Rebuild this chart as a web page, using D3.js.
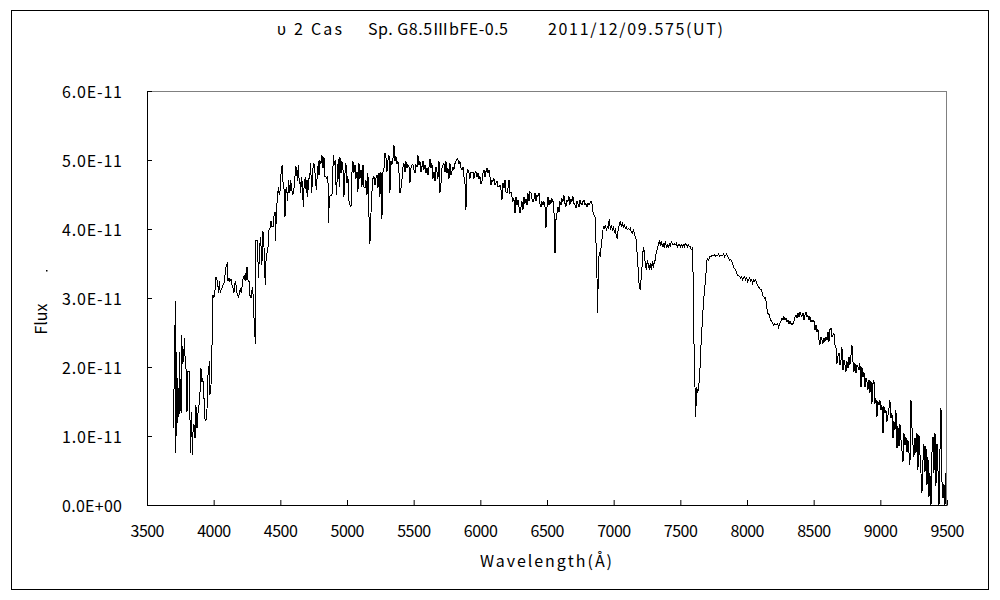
<!DOCTYPE html>
<html>
<head>
<meta charset="utf-8">
<script src="https://cdn.jsdelivr.net/npm/d3@7"></script>
<style>
  body { margin: 0; background: #fff; }
  text { font-family: 'Noto Sans CJK JP', 'Noto Sans', sans-serif; }
</style>
</head>
<body>
<svg width="1000" height="600"></svg>
<script>
// Title pieces
var titleParts = ["υ 2 Cas", "Sp. G8.5ⅢbFE-0.5", "2011/12/09.575(UT)"];

// Tick values (flux in units of 1e-11)
var xTicks = [3500, 4000, 4500, 5000, 5500, 6000, 6500, 7000, 7500, 8000, 8500, 9000, 9500];
var yTicks = [0, 1, 2, 3, 4, 5, 6];

// Spectrum, [wavelength (A), flux (x1e-11)]
var specBlue = [[3698,1.12],[3713,2.96],[3717,0.76],[3721,2.22],[3724,1.04],[3730,1.84],[3740,1.28],[3745,2.22],[3750,1.47],[3757,1.33],[3760,2.46],[3767,2.05],[3775,2.10],[3780,2.42],[3787,2.05],[3795,1.93],[3800,1.35],[3805,1.93],[3817,1.93],[3822,1.30],[3827,0.75],[3835,1.35],[3840,0.72],[3845,1.06],[3852,1.18],[3860,0.97],[3867,1.45],[3875,1.11],[3882,1.33],[3892,1.47],[3900,1.71],[3905,1.98],[3912,1.79],[3917,1.84],[3925,1.71],[3932,1.26],[3942,1.22],[3950,1.38],[3955,1.86],[3962,1.91],[3967,2.08],[3972,1.59],[3980,1.74],[3985,1.91],[3990,2.68],[3995,3.04],[4002,3.00],[4010,3.12],[4017,3.31],[4025,3.26],[4030,3.21],[4037,3.07],[4042,3.24],[4050,3.07],[4055,3.12],[4062,3.14],[4070,3.19],[4077,3.21],[4087,3.36],[4095,3.48],[4102,3.50],[4107,3.24],[4115,3.29],[4122,3.24],[4130,3.27],[4137,3.19],[4145,3.14],[4152,3.07],[4157,3.19],[4165,3.24],[4172,3.09],[4180,3.04],[4187,3.00],[4192,3.07],[4200,3.14],[4207,3.07],[4215,3.19],[4222,3.31],[4230,3.26],[4237,3.36],[4242,3.24],[4250,3.45],[4257,3.26],[4265,3.24],[4272,3.04],[4280,3.00],[4290,3.16],[4297,3.02],[4302,2.73],[4307,2.58],[4312,2.34],[4317,3.84],[4325,3.84],[4330,3.77],[4335,3.29],[4342,3.57],[4350,3.89],[4357,3.70],[4362,3.48],[4367,3.96],[4375,3.94],[4380,3.55],[4387,3.19],[4392,3.53],[4400,3.65],[4407,3.72],[4415,3.99],[4422,4.01],[4430,4.11],[4437,4.03],[4445,4.03],[4452,4.18],[4460,4.25],[4465,3.82],[4470,4.32],[4477,4.40],[4485,4.61],[4492,4.49],[4500,4.57],[4507,4.88],[4515,4.93],[4522,4.59],[4530,4.57],[4535,4.18],[4540,4.57],[4547,4.61],[4555,4.40],[4562,4.71],[4567,4.59],[4572,4.52],[4577,4.71],[4585,4.59],[4592,4.49],[4600,4.54],[4607,4.69],[4615,4.90],[4622,4.88],[4627,4.69],[4635,4.93],[4642,4.66],[4647,4.71],[4652,4.52],[4660,4.76],[4667,4.57],[4672,4.32],[4680,4.71],[4687,4.73],[4695,4.52],[4700,4.71],[4705,4.47],[4712,4.73],[4720,4.73],[4727,4.95],[4735,4.52],[4742,4.78],[4747,4.95],[4755,4.93],[4762,4.76],[4770,4.57],[4777,4.78],[4785,4.98],[4790,4.78],[4797,4.98],[4805,4.95],[4812,5.07],[4820,4.88],[4827,5.05],[4835,4.76],[4842,4.76],[4850,4.73],[4857,4.76],[4862,4.08],[4867,4.44],[4875,4.49],[4882,4.49],[4890,4.52],[4897,5.07],[4905,4.93],[4912,5.00],[4920,4.49],[4927,4.76],[4935,5.02],[4942,4.61]];

var specGreen = [[4947,5.05],[4955,4.81],[4962,4.98],[4970,4.86],[4977,4.47],[4985,4.81],[4992,4.95],[5000,4.66],[5007,4.76],[5015,4.40],[5022,4.35],[5030,4.32],[5037,4.81],[5045,4.98],[5052,4.81],[5060,4.93],[5067,4.73],[5075,4.83],[5082,4.54],[5090,4.95],[5097,4.73],[5105,4.86],[5112,4.61],[5120,4.93],[5127,4.61],[5135,4.59],[5142,4.71],[5150,4.49],[5157,4.81],[5165,4.18],[5172,3.79],[5180,4.23],[5187,4.54],[5195,4.73],[5202,4.76],[5210,4.64],[5217,4.73],[5225,4.78],[5232,4.59],[5240,4.81],[5247,4.47],[5255,4.83],[5262,4.15],[5270,4.83],[5277,4.86],[5285,5.10],[5292,5.05],[5300,4.83],[5307,5.00],[5315,5.07],[5322,4.52],[5330,4.98],[5337,4.93],[5345,5.02],[5352,5.22],[5360,4.98],[5367,5.05],[5375,4.95],[5382,4.98],[5390,4.81],[5397,4.52],[5405,4.59],[5412,4.71],[5420,4.90],[5427,4.95],[5435,4.83],[5442,4.98],[5450,4.88],[5457,4.93],[5465,4.90],[5472,4.66],[5480,4.88],[5487,4.93],[5495,4.93],[5502,4.86],[5510,4.81],[5517,4.93],[5525,4.90],[5532,5.07],[5540,4.93],[5547,4.98],[5555,4.83],[5562,4.90],[5570,4.98],[5577,4.86],[5585,4.93],[5592,4.81],[5600,4.88],[5607,4.78],[5615,4.90],[5622,5.02],[5630,4.88],[5637,4.95],[5645,4.73],[5652,4.83],[5660,4.69],[5667,4.90],[5675,4.83],[5682,4.73],[5690,4.98],[5697,4.52],[5705,4.66],[5712,4.88],[5720,4.93],[5727,4.95],[5735,4.83],[5742,4.98],[5750,4.81],[5757,4.88],[5765,4.73],[5772,4.95],[5780,4.78],[5787,4.83],[5795,4.90],[5802,4.86],[5810,4.95],[5817,4.98],[5825,5.02],[5832,5.00],[5840,4.95],[5847,4.98],[5855,4.88],[5862,4.86],[5870,4.90],[5877,4.76],[5885,4.66],[5892,4.28],[5900,4.81],[5907,4.86],[5915,4.81],[5922,4.73],[5930,4.83],[5937,4.81],[5945,4.83],[5952,4.73],[5960,4.81],[5967,4.83],[5975,4.76],[5982,4.81],[5990,4.73],[5997,4.76],[6005,4.66],[6012,4.69],[6020,4.81],[6027,4.86],[6035,4.76],[6042,4.83],[6050,4.88],[6057,4.81],[6065,4.86],[6072,4.76],[6080,4.64],[6087,4.71],[6095,4.69],[6102,4.73],[6110,4.64],[6117,4.66],[6125,4.69],[6132,4.61],[6140,4.61],[6147,4.64],[6155,4.57],[6162,4.42],[6170,4.66],[6177,4.59],[6185,4.71],[6192,4.54],[6200,4.52],[6207,4.59],[6215,4.71],[6222,4.52],[6230,4.54],[6237,4.47],[6245,4.40],[6252,4.44],[6260,4.23],[6267,4.47],[6275,4.35],[6282,4.42],[6290,4.32]];

var specOrange = [[6297,4.23],[6305,4.32],[6312,4.40],[6320,4.28],[6327,4.47],[6335,4.37],[6342,4.44],[6350,4.35],[6357,4.52],[6365,4.40],[6372,4.54],[6380,4.52],[6387,4.44],[6395,4.40],[6402,4.42],[6410,4.52],[6417,4.40],[6425,4.49],[6432,4.47],[6440,4.52],[6447,4.37],[6455,4.32],[6462,4.40],[6470,4.35],[6477,4.40],[6485,4.32],[6492,4.01],[6500,4.32],[6507,4.47],[6515,4.35],[6522,4.42],[6530,4.37],[6537,4.44],[6545,4.40],[6552,4.28],[6560,3.65],[6567,4.13],[6575,4.23],[6582,4.32],[6590,4.25],[6597,4.40],[6605,4.35],[6612,4.44],[6620,4.40],[6627,4.49],[6635,4.37],[6642,4.32],[6650,4.42],[6657,4.40],[6665,4.47],[6672,4.35],[6680,4.44],[6687,4.40],[6695,4.47],[6702,4.37],[6710,4.35],[6717,4.30],[6725,4.40],[6732,4.37],[6740,4.32],[6747,4.42],[6755,4.37],[6762,4.35],[6770,4.40],[6777,4.42],[6785,4.35],[6792,4.37],[6800,4.32],[6807,4.37],[6815,4.35],[6822,4.37],[6830,4.40],[6837,4.37],[6845,4.25],[6852,4.20],[6860,4.18],[6867,3.84]];

var specRed = [[6875,3.29],[6880,2.78],[6885,3.45],[6892,3.67],[6900,3.60],[6907,3.77],[6915,3.89],[6922,4.03],[6930,4.01],[6937,4.06],[6945,3.99],[6952,4.03],[6960,4.01],[6967,4.15],[6975,3.99],[6982,4.06],[6990,3.99],[6997,4.03],[7005,3.96],[7012,3.99],[7020,3.91],[7027,3.86],[7035,4.01],[7042,4.06],[7050,4.11],[7057,4.03],[7065,4.08],[7072,4.03],[7080,4.06],[7087,4.01],[7095,4.03],[7102,3.99],[7110,4.01],[7117,3.99],[7125,4.01],[7132,3.96],[7140,3.94],[7147,3.99],[7155,3.94],[7162,3.89],[7170,3.84],[7177,3.60],[7185,3.38],[7192,3.16],[7200,3.12],[7207,3.31],[7215,3.50],[7222,3.74],[7230,3.67],[7237,3.48],[7245,3.41],[7252,3.55],[7260,3.48],[7267,3.41],[7275,3.50],[7282,3.41],[7290,3.53],[7297,3.43],[7305,3.53],[7312,3.55],[7320,3.67],[7327,3.70],[7335,3.77],[7342,3.82],[7350,3.77],[7357,3.82],[7365,3.74],[7372,3.79],[7380,3.72],[7387,3.82],[7395,3.74],[7402,3.77],[7410,3.72],[7417,3.79],[7425,3.74],[7432,3.82],[7440,3.79],[7447,3.77],[7455,3.79],[7462,3.77],[7470,3.79],[7477,3.74],[7485,3.77],[7492,3.77],[7500,3.74],[7507,3.77],[7515,3.74],[7522,3.77],[7530,3.74],[7537,3.79],[7545,3.77],[7552,3.74],[7560,3.77],[7567,3.74],[7575,3.74],[7582,3.70],[7590,3.72],[7597,3.26],[7602,2.39],[7610,1.71],[7615,1.28],[7622,1.71],[7630,1.62],[7637,1.71],[7645,1.86],[7652,2.20],[7660,2.49],[7667,2.73],[7675,2.97],[7682,3.14],[7690,3.26],[7697,3.53],[7705,3.57],[7712,3.55],[7720,3.60],[7727,3.60],[7735,3.61],[7742,3.62],[7750,3.61],[7757,3.63],[7765,3.61],[7772,3.62],[7780,3.61],[7787,3.64],[7795,3.61],[7802,3.62],[7810,3.62],[7817,3.61],[7825,3.64],[7832,3.60],[7840,3.62],[7847,3.64],[7855,3.60],[7862,3.57],[7870,3.55],[7877,3.56],[7885,3.53],[7892,3.50],[7900,3.44],[7907,3.43],[7915,3.41],[7922,3.36],[7930,3.33],[7937,3.33],[7945,3.31],[7952,3.29],[7960,3.31],[7967,3.26],[7975,3.29],[7982,3.31],[7990,3.26],[7997,3.29],[8005,3.24],[8012,3.26],[8020,3.29],[8027,3.24],[8035,3.26],[8042,3.21],[8050,3.26],[8057,3.24],[8065,3.26],[8072,3.21],[8080,3.19],[8087,3.16],[8095,3.14],[8102,3.12],[8110,3.12],[8117,3.04],[8125,3.02],[8132,3.00],[8140,3.01],[8147,2.87],[8155,2.78],[8162,2.78],[8170,2.73],[8177,2.68],[8185,2.66],[8192,2.63],[8200,2.61],[8207,2.63],[8215,2.62],[8222,2.61],[8230,2.63],[8237,2.58],[8245,2.63]];

var specNIR = [[8255,2.66],[8262,2.71],[8270,2.68],[8277,2.73],[8285,2.68],[8292,2.71],[8300,2.66],[8307,2.68],[8315,2.63],[8322,2.66],[8330,2.63],[8337,2.61],[8345,2.63],[8352,2.66],[8360,2.73],[8367,2.75],[8375,2.71],[8382,2.78],[8390,2.73],[8397,2.80],[8405,2.75],[8412,2.73],[8420,2.78],[8427,2.68],[8435,2.75],[8442,2.80],[8450,2.73],[8457,2.75],[8465,2.68],[8472,2.73],[8480,2.66],[8487,2.68],[8495,2.66],[8502,2.68],[8510,2.54],[8517,2.61],[8525,2.51],[8532,2.54],[8540,2.39],[8547,2.32],[8555,2.44],[8562,2.39],[8570,2.34],[8577,2.42],[8585,2.37],[8592,2.44],[8600,2.39],[8607,2.51],[8615,2.37],[8622,2.54],[8630,2.56],[8637,2.44],[8645,2.46],[8652,2.49],[8660,2.32],[8667,2.29],[8675,2.05],[8682,2.15],[8690,2.20],[8697,2.03],[8705,2.10],[8712,2.29],[8720,1.96],[8727,2.10],[8735,2.03],[8742,1.93],[8750,2.08],[8757,1.98],[8765,2.15],[8772,2.03],[8780,2.17],[8787,2.32],[8795,2.08],[8802,1.93],[8810,2.05],[8817,1.91],[8825,2.03],[8832,2.00],[8840,1.96],[8847,2.05],[8855,1.71],[8862,2.00],[8870,1.86],[8877,1.93],[8885,1.71],[8892,1.84],[8900,1.79],[8907,1.67],[8915,1.81],[8922,1.62],[8930,1.79],[8937,1.47],[8945,1.76],[8952,1.81],[8960,1.47],[8967,1.55],[8975,1.28],[8982,1.50],[8990,1.45],[8997,1.52],[9005,1.38],[9012,1.45],[9020,1.04],[9027,1.43],[9035,1.33],[9042,1.38],[9050,1.21],[9057,1.30],[9065,1.40],[9072,1.52],[9080,1.26],[9087,1.33],[9095,0.97],[9102,1.21],[9110,1.09],[9117,1.38],[9125,0.82],[9132,1.14],[9140,0.85],[9147,1.18],[9155,0.94],[9162,0.80],[9170,0.63],[9177,1.04],[9185,0.87],[9192,0.99],[9200,0.77],[9207,0.94],[9215,0.75],[9222,0.58],[9230,1.52],[9237,1.14],[9245,0.87],[9252,0.70],[9260,0.97],[9267,0.75],[9275,1.04],[9282,0.51],[9290,1.01],[9297,0.75],[9305,0.46],[9312,0.17],[9320,0.65],[9327,0.89],[9335,0.48],[9342,0.85],[9350,0.29],[9357,0.70],[9365,0.12],[9372,0.46],[9380,0.00],[9387,0.75],[9395,0.99],[9402,0.46],[9410,1.04],[9417,0.27],[9425,0.89],[9432,0.53],[9440,0.00],[9447,0.75],[9455,1.40],[9462,0.36],[9470,0.10],[9477,0.31],[9485,0.00],[9492,0.46]];

var spectrum = specBlue.concat(specGreen, specOrange, specRed, specNIR);

var svg = d3.select("svg");

// outer frame
svg.append("rect")
  .attr("x", 11.5).attr("y", 10.5)
  .attr("width", 977).attr("height", 579)
  .attr("fill", "none").attr("stroke", "#000");

var x = d3.scaleLinear().domain([3500, 9500]).range([147, 947]);
var y = d3.scaleLinear().domain([0, 6]).range([505, 91]);

// plot area border (grey top/right)
svg.append("rect")
  .attr("x", 147.5).attr("y", 91.5)
  .attr("width", 799).attr("height", 414)
  .attr("fill", "none").attr("stroke", "#808080");

// spectrum line
var line = d3.line()
  .x(function(d) { return x(d[0]); })
  .y(function(d) { return y(d[1]); });

svg.append("path")
  .datum(spectrum)
  .attr("d", line)
  .attr("fill", "none")
  .attr("stroke", "#000")
  .attr("stroke-width", 1)
  .attr("shape-rendering", "crispEdges");

// axes
var xAxis = svg.append("g")
  .attr("transform", "translate(0,505)")
  .call(d3.axisBottom(x).tickValues(xTicks).tickSize(-5).tickSizeOuter(0).tickPadding(21).tickFormat(d3.format("d")));

var yAxis = svg.append("g")
  .attr("transform", "translate(147,0)")
  .call(d3.axisLeft(y).tickValues(yTicks).tickSize(-5).tickSizeOuter(0).tickPadding(25)
    .tickFormat(function(d) { return d === 0 ? "0.0E+00" : d.toFixed(1) + "E-11"; }));

[xAxis, yAxis].forEach(function(g) {
  g.select(".domain").attr("stroke", "#000");
  g.selectAll(".tick line").attr("stroke", "#000");
  g.selectAll(".tick text")
    .attr("fill", "#000")
    .style("font-family", "'Noto Sans CJK JP', 'Noto Sans', sans-serif")
    .style("font-size", "16px");
});
xAxis.selectAll(".tick text").attr("textLength", 34);
yAxis.selectAll(".tick text").attr("textLength", 60).attr("dy", "0.4em");

// title
var titleX = [277, 368, 548];
var titleW = [65, 140, 175];
svg.selectAll("text.title")
  .data(titleParts)
  .enter().append("text")
  .attr("class", "title")
  .attr("x", function(d, i) { return titleX[i]; })
  .attr("y", 35)
  .attr("textLength", function(d, i) { return titleW[i]; })
  .style("font-size", "16px")
  .text(function(d) { return d; });

// axis titles
svg.append("text")
  .attr("x", 480).attr("y", 567)
  .attr("textLength", 132)
  .style("font-size", "16px")
  .text("Wavelength(Å)");

svg.append("text")
  .attr("transform", "translate(47,319) rotate(-90)")
  .attr("text-anchor", "middle")
  .style("font-size", "16px")
  .text("Flux");

svg.append("rect")
  .attr("x", 46).attr("y", 270)
  .attr("width", 1.5).attr("height", 1.5)
  .attr("fill", "#000");
</script>
</body>
</html>
